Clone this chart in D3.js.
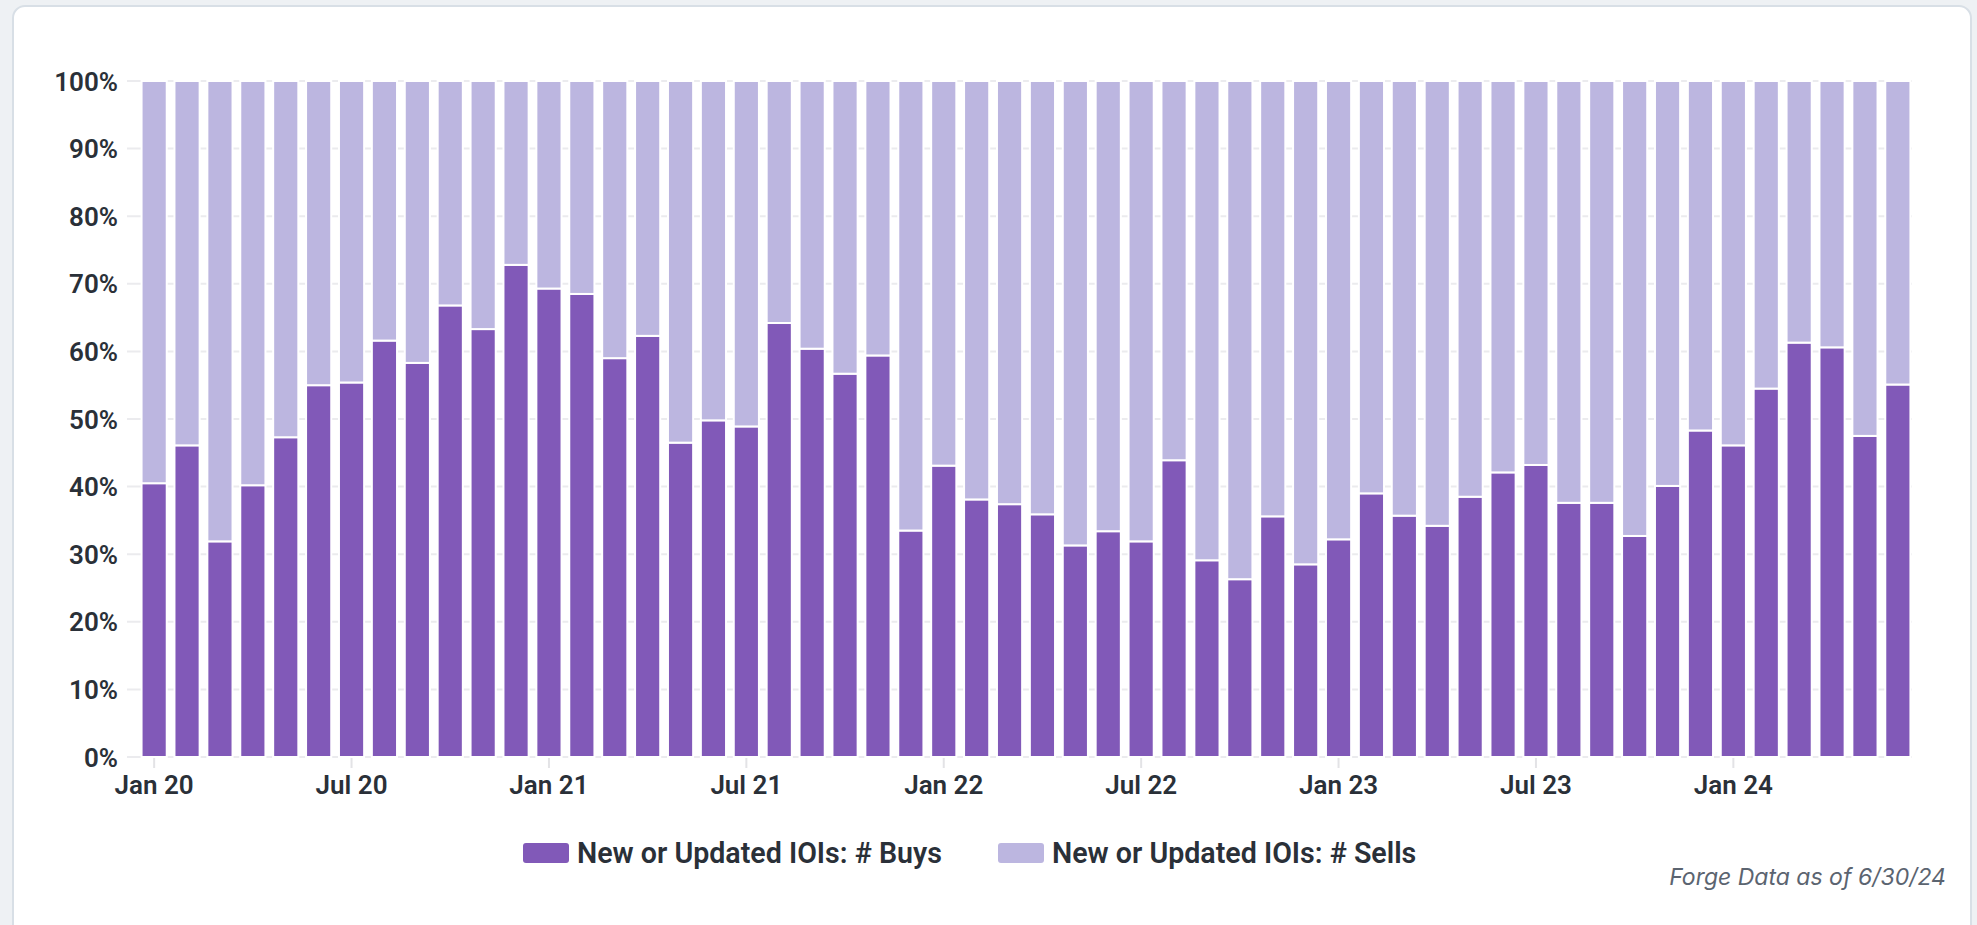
<!DOCTYPE html>
<html>
<head>
<meta charset="utf-8">
<script src="https://cdn.jsdelivr.net/npm/d3@7"></script>
<style>
  html, body { margin: 0; padding: 0; background: #eef1f4; }
  svg { display: block; }
  text { font-family: Roboto, "Noto Sans", sans-serif; }
  text.note { font-family: Inter, "Noto Sans", sans-serif; }
</style>
</head>
<body>
<svg id="chart" width="1977" height="925"></svg>
<script>
// Monthly share of new or updated IOIs, Jan 2020 – Jun 2024
const months = [
  "2020-01","2020-02","2020-03","2020-04","2020-05","2020-06","2020-07","2020-08","2020-09","2020-10","2020-11","2020-12",
  "2021-01","2021-02","2021-03","2021-04","2021-05","2021-06","2021-07","2021-08","2021-09","2021-10","2021-11","2021-12",
  "2022-01","2022-02","2022-03","2022-04","2022-05","2022-06","2022-07","2022-08","2022-09","2022-10","2022-11","2022-12",
  "2023-01","2023-02","2023-03","2023-04","2023-05","2023-06","2023-07","2023-08","2023-09","2023-10","2023-11","2023-12",
  "2024-01","2024-02","2024-03","2024-04","2024-05","2024-06"
];

// % of IOIs that were buys
const buysPct = [
  40.5, 46.1, 31.9, 40.2, 47.3, 55.0, 55.4, 61.6, 58.3, 66.8, 63.3, 72.8,
  69.3, 68.5, 59.0, 62.3, 46.5, 49.8, 48.9, 64.2, 60.4, 56.7, 59.4, 33.5,
  43.1, 38.1, 37.4, 35.9, 31.3, 33.4, 31.9, 43.9, 29.1, 26.3, 35.6, 28.5,
  32.2, 39.0, 35.7, 34.2, 38.5, 42.1, 43.2, 37.6, 37.6, 32.7, 40.1, 48.3,
  46.1, 54.5, 61.3, 60.6, 47.5, 55.1
];

// % of IOIs that were sells
const sellsPct = [
  59.5, 53.9, 68.1, 59.8, 52.7, 45.0, 44.6, 38.4, 41.7, 33.2, 36.7, 27.2,
  30.7, 31.5, 41.0, 37.7, 53.5, 50.2, 51.1, 35.8, 39.6, 43.3, 40.6, 66.5,
  56.9, 61.9, 62.6, 64.1, 68.7, 66.6, 68.1, 56.1, 70.9, 73.7, 64.4, 71.5,
  67.8, 61.0, 64.3, 65.8, 61.5, 57.9, 56.8, 62.4, 62.4, 67.3, 59.9, 51.7,
  53.9, 45.5, 38.7, 39.4, 52.5, 44.9
];

const seriesNames = ["New or Updated IOIs: # Buys", "New or Updated IOIs: # Sells"];
const seriesColors = ["#8159b8", "#bcb6e0"];
const yTicks = [0, 10, 20, 30, 40, 50, 60, 70, 80, 90, 100];
const xTickMonths = ["2020-01","2020-07","2021-01","2021-07","2022-01","2022-07","2023-01","2023-07","2024-01"];
const footnote = "Forge Data as of 6/30/24";

const svg = d3.select("#chart");

// card
svg.append("rect")
  .attr("x", 13).attr("y", 6)
  .attr("width", 1958).attr("height", 960)
  .attr("rx", 12)
  .attr("fill", "#ffffff")
  .attr("stroke", "#d8dfe6").attr("stroke-width", 2);

const plot = { left: 127, right: 1912, top: 81, bottom: 757 };

const x = d3.scaleBand()
  .domain(months)
  .range([137.7, 1914.3])
  .paddingInner(0.235)
  .paddingOuter(0.1175);

const y = d3.scaleLinear().domain([0, 100]).range([plot.bottom, plot.top]);

const parse = d3.timeParse("%Y-%m");
const fmtTick = d3.timeFormat("%b %y");
const labelColor = "#2a3038";

// grid
svg.append("g")
  .selectAll("line")
  .data(yTicks)
  .join("line")
  .attr("x1", plot.left).attr("x2", plot.right)
  .attr("y1", d => y(d)).attr("y2", d => y(d))
  .attr("stroke", "#ebebee").attr("stroke-width", 2);

// y axis labels
const yAxis = d3.axisLeft(y).tickValues(yTicks).tickFormat(d => d + "%").tickSize(0).tickPadding(0);
const gy = svg.append("g").attr("transform", `translate(${plot.left - 9},0)`).call(yAxis);
gy.select(".domain").remove();
gy.selectAll("text")
  .attr("fill", labelColor)
  .attr("font-size", 26)
  .attr("font-weight", 600)
  .attr("dy", "0.35em");

// x axis ticks and labels at bar centres
const xCenter = m => x(m) + x.bandwidth() / 2;
const gx = svg.append("g").attr("class", "x-axis");
gx.selectAll("line")
  .data(xTickMonths)
  .join("line")
  .attr("x1", xCenter).attr("x2", xCenter)
  .attr("y1", plot.bottom + 1).attr("y2", plot.bottom + 11)
  .attr("stroke", "#e3e3e6").attr("stroke-width", 2);
gx.selectAll("text")
  .data(xTickMonths)
  .join("text")
  .attr("x", xCenter)
  .attr("y", 785)
  .attr("dy", "0.35em")
  .attr("text-anchor", "middle")
  .attr("fill", labelColor)
  .attr("font-size", 26)
  .attr("font-weight", 600)
  .text(d => fmtTick(parse(d)));

// stacked bars
const rows = months.map((m, i) => ({ month: m, buys: buysPct[i], sells: sellsPct[i] }));
const layers = d3.stack().keys(["buys", "sells"])(rows);

svg.append("g")
  .selectAll("g")
  .data(layers)
  .join("g")
  .attr("fill", (d, i) => seriesColors[i])
  .selectAll("rect")
  .data(d => d)
  .join("rect")
  .attr("x", d => x(d.data.month))
  .attr("width", x.bandwidth())
  .attr("y", d => y(d[1]))
  .attr("height", d => y(d[0]) - y(d[1]))
  .attr("stroke", "#ffffff")
  .attr("stroke-width", 2);

// legend
const legendItems = [
  { name: seriesNames[0], color: seriesColors[0], x: 523 },
  { name: seriesNames[1], color: seriesColors[1], x: 998 }
];
const lg = svg.append("g");
lg.selectAll("rect")
  .data(legendItems)
  .join("rect")
  .attr("x", d => d.x).attr("y", 843)
  .attr("width", 46).attr("height", 20)
  .attr("rx", 3)
  .attr("fill", d => d.color);
lg.selectAll("text")
  .data(legendItems)
  .join("text")
  .attr("x", d => d.x + 54)
  .attr("y", 852.5)
  .attr("dy", "0.35em")
  .attr("fill", labelColor)
  .attr("font-size", 28.6)
  .attr("font-weight", 600)
  .text(d => d.name);

// source note
svg.append("text")
  .attr("class", "note")
  .attr("x", 1946).attr("y", 877)
  .attr("dy", "0.35em")
  .attr("text-anchor", "end")
  .attr("fill", "#5b6470")
  .attr("font-size", 23)
  .attr("font-style", "italic")
  .text(footnote);
</script>
</body>
</html>
